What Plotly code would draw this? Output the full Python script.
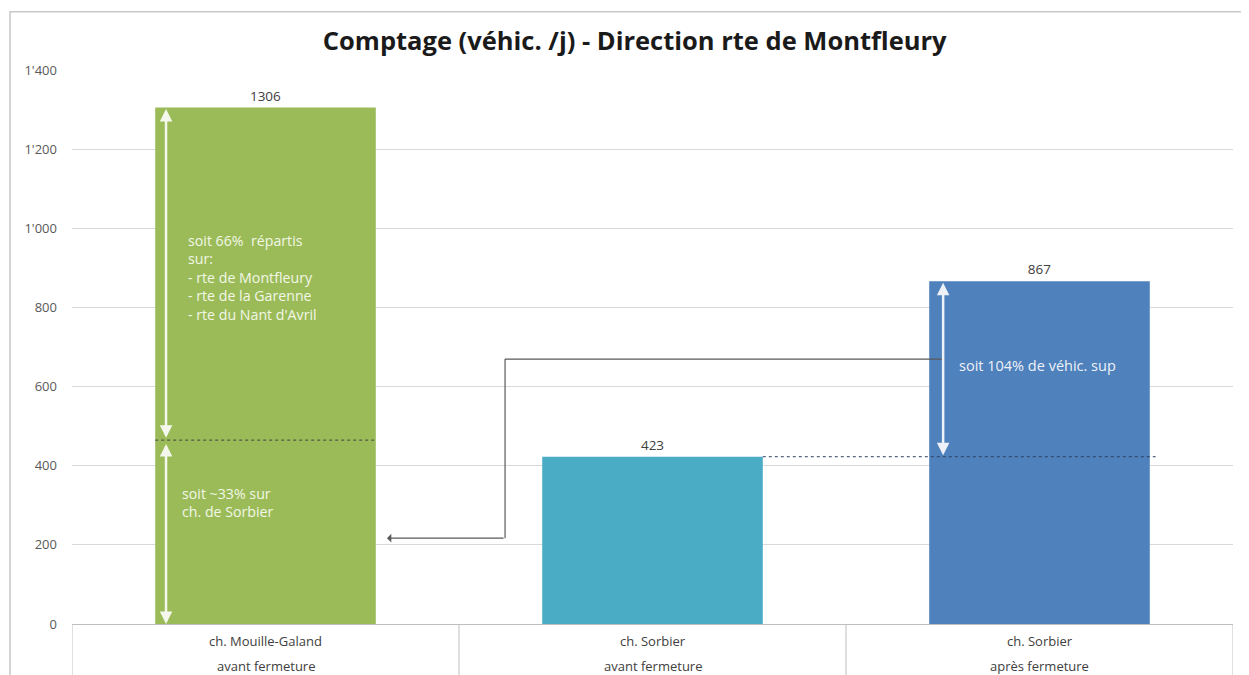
import plotly.graph_objects as go

# ---- data ----
cat_line1 = ["ch. Mouille-Galand", "ch. Sorbier", "ch. Sorbier"]
cat_line2 = ["avant fermeture", "avant fermeture", "après fermeture"]
values = [1306, 423, 867]
bar_colors = ["#9bbb59", "#4bacc6", "#4f81bd"]
ytick_vals = [0, 200, 400, 600, 800, 1000, 1200, 1400]
ytick_text = ["0", "200", "400", "600", "800", "1'000", "1'200", "1'400"]
split_green = 465          # split level inside the first bar (~33%)
connector_level_top = 670  # level of the connector leaving the 3rd bar
connector_level_bot = 217  # level where the connector arrives at the 1st bar

title = "Comptage (véhic. /j) - Direction rte de Montfleury"
txt_green_top = "soit 66%  répartis<br>sur:<br>- rte de Montfleury<br>- rte de la Garenne<br>- rte du Nant d'Avril"
txt_green_bot = "soit ~33% sur<br>ch. de Sorbier"
txt_blue = "soit 104% de véhic. sup"

# ---- styling ----
BW = 0.57
FONT = "Open Sans"
x = list(range(len(values)))

fig = go.Figure()
fig.add_trace(go.Bar(
    x=x, y=values, width=BW, marker=dict(color=bar_colors, line=dict(width=0)),
    text=[str(v) for v in values], textposition="outside",
    textfont=dict(family=FONT, size=13.5, color="#404040"),
    cliponaxis=False, showlegend=False, hoverinfo="skip"))

shapes = []
# outer chart border
shapes.append(dict(type="rect", xref="paper", yref="paper", x0=-0.0534, x1=1.03,
                   y0=-0.2, y1=1.105, line=dict(color="#c8c8c8", width=1.5), layer="below"))
# category cell borders
for b in [-0.5, 0.5, 1.5, 2.5]:
    shapes.append(dict(type="line", xref="x", yref="paper", x0=b, x1=b, y0=0, y1=-0.15,
                       line=dict(color="#bfbfbf", width=1)))
# dashed split level in green bar
shapes.append(dict(type="line", xref="x", yref="y", x0=0 - BW / 2, x1=0 + BW / 2,
                   y0=split_green, y1=split_green, line=dict(color="#404040", width=1, dash="dot")))
# dashed level of bar 2 extended to bar 3
shapes.append(dict(type="line", xref="x", yref="y", x0=1 + BW / 2, x1=2 + BW / 2 + 0.015,
                   y0=values[1], y1=values[1], line=dict(color="#2f3f5f", width=1, dash="dot")))
# connector
xc = 0.619
xb = 2 - BW / 2 + 0.036
shapes.append(dict(type="line", xref="x", yref="y", x0=xc, x1=xb,
                   y0=connector_level_top, y1=connector_level_top, line=dict(color="#595959", width=1.2)))
shapes.append(dict(type="line", xref="x", yref="y", x0=xc, x1=xc,
                   y0=connector_level_top, y1=connector_level_bot, line=dict(color="#595959", width=1.2)))

ann = []
# bottom connector segment with arrow
ann.append(dict(x=0.314, y=connector_level_bot, ax=xc, ay=connector_level_bot,
                xref="x", yref="y", axref="x", ayref="y", text="", showarrow=True,
                arrowhead=1, arrowsize=1.2, arrowwidth=1.2, arrowcolor="#595959"))
# white double arrows
xg = 0 - BW / 2 + 0.028
for (y0, y1) in [(values[0], split_green + 6), (split_green - 6, 0)]:
    ann.append(dict(x=xg, y=y1, ax=xg, ay=y0, xref="x", yref="y", axref="x", ayref="y",
                    text="", showarrow=True, arrowhead=2, arrowside="end+start",
                    arrowsize=1, arrowwidth=2.5, arrowcolor="#f4f8ec"))
ann.append(dict(x=xb, y=values[1] + 4, ax=xb, ay=values[2], xref="x", yref="y", axref="x", ayref="y",
                text="", showarrow=True, arrowhead=2, arrowside="end+start",
                arrowsize=1, arrowwidth=2.5, arrowcolor="#eef2f8"))
# texts inside bars
ann.append(dict(x=xg + 0.051, y=1000, xref="x", yref="y", text=txt_green_top, showarrow=False,
                xanchor="left", yanchor="top", align="left",
                font=dict(family=FONT, size=14.2, color="#f2f7e6")))
ann.append(dict(x=xg + 0.035, y=358, xref="x", yref="y", text=txt_green_bot, showarrow=False,
                xanchor="left", yanchor="top", align="left",
                font=dict(family=FONT, size=14.2, color="#f2f7e6")))
ann.append(dict(x=xb + 0.035, y=654, xref="x", yref="y", text=txt_blue, showarrow=False,
                xanchor="left", yanchor="middle", align="left",
                font=dict(family=FONT, size=14.5, color="#eef2f8")))
# category labels (two lines per cell)
for i, (a, b) in enumerate(zip(cat_line1, cat_line2)):
    ann.append(dict(x=i, y=0, xref="x", yref="paper", text=a, showarrow=False,
                    yanchor="middle", yshift=-17, font=dict(family=FONT, size=13, color="#404040")))
    ann.append(dict(x=i, y=0, xref="x", yref="paper", text=b, showarrow=False,
                    yanchor="middle", yshift=-42, font=dict(family=FONT, size=13, color="#404040")))

# the page adds an 8px body margin, so the figure is sized to fit inside the window
fig.update_layout(
    width=1241, height=667,
    margin=dict(l=64, r=16, t=62, b=51),
    paper_bgcolor="white", plot_bgcolor="white",
    title=dict(text=f"<b>{title}</b>", x=0.505, xanchor="center", y=0.95, yanchor="middle",
               font=dict(family=FONT, size=25.5, color="#1a1a1a")),
    xaxis=dict(range=[-0.5, 2.5], tickvals=x, showticklabels=False, showgrid=False,
               showline=True, linecolor="#bfbfbf", linewidth=1, ticks="", zeroline=False,
               automargin=False),
    yaxis=dict(range=[0, 1401], tickvals=ytick_vals, ticktext=ytick_text, showgrid=True,
               gridcolor="#d9d9d9", gridwidth=1, zeroline=False, showline=False,
               tickfont=dict(family=FONT, size=13, color="#595959"), ticklabelstandoff=14,
               automargin=False),
    shapes=shapes, annotations=ann, bargap=0.43,
)

fig.write_html("out.html")
